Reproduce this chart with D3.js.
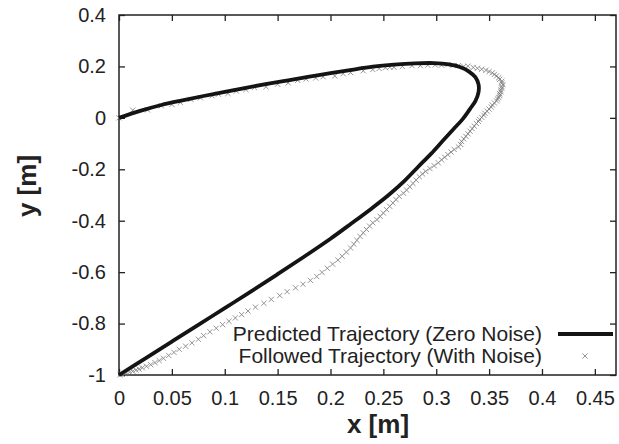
<!DOCTYPE html>
<html><head><meta charset="utf-8">
<script src="https://cdn.jsdelivr.net/npm/d3@7"></script>
<style>body{margin:0;background:#fff}svg{display:block}text{font-family:"Liberation Sans",Arial,sans-serif;fill:#222}</style>
</head><body><svg id="c" width="619" height="444"></svg>
<script>
const xTicks = [0,0.05,0.1,0.15,0.2,0.25,0.3,0.35,0.4,0.45];
const xTickLabels = ["0","0.05","0.1","0.15","0.2","0.25","0.3","0.35","0.4","0.45"];
const yTicks = [0.4,0.2,0,-0.2,-0.4,-0.6,-0.8,-1];
const yTickLabels = ["0.4","0.2","0","-0.2","-0.4","-0.6","-0.8","-1"];
const seriesNames = ["Predicted Trajectory (Zero Noise)","Followed Trajectory (With Noise)"];
const predictedX = [0,0.02,0.04,0.06,0.08,0.1,0.12,0.14,0.16,0.18,0.2,0.22,0.24,0.26,0.28,0.298,0.312,0.323,0.331,0.337,0.34,0.34,0.337,0.332,0.325,0.316,0.306,0.295,0.283,0.27,0.255,0.238,0.22,0.2,0.175,0.15,0.125,0.1,0.075,0.05,0.025,0];
const predictedY = [0,0.027,0.05,0.068,0.085,0.101,0.117,0.132,0.146,0.16,0.174,0.187,0.199,0.207,0.212,0.213,0.208,0.197,0.18,0.158,0.13,0.1,0.065,0.035,-0.005,-0.045,-0.09,-0.14,-0.19,-0.245,-0.3,-0.355,-0.41,-0.47,-0.54,-0.608,-0.675,-0.74,-0.805,-0.87,-0.935,-1];
const followedX = [0.000,0.013,0.027,0.040,0.050,0.058,0.068,0.077,0.088,0.094,0.103,0.111,0.120,0.128,0.139,0.150,0.160,0.169,0.177,0.186,0.193,0.204,0.212,0.219,0.231,0.240,0.246,0.252,0.256,0.260,0.268,0.277,0.285,0.292,0.299,0.305,0.311,0.316,0.321,0.326,0.330,0.335,0.339,0.343,0.347,0.350,0.353,0.355,0.357,0.359,0.360,0.362,0.362,0.363,0.362,0.362,0.361,0.361,0.360,0.360,0.359,0.358,0.357,0.355,0.353,0.352,0.350,0.348,0.346,0.345,0.343,0.341,0.340,0.338,0.336,0.334,0.332,0.330,0.328,0.326,0.324,0.323,0.321,0.317,0.314,0.311,0.308,0.305,0.302,0.298,0.294,0.290,0.287,0.284,0.281,0.278,0.275,0.272,0.269,0.265,0.262,0.259,0.256,0.253,0.250,0.247,0.244,0.240,0.237,0.234,0.231,0.228,0.225,0.222,0.219,0.215,0.211,0.207,0.202,0.197,0.192,0.187,0.181,0.174,0.167,0.159,0.152,0.144,0.137,0.129,0.122,0.116,0.110,0.104,0.098,0.092,0.086,0.080,0.075,0.069,0.063,0.057,0.052,0.047,0.042,0.038,0.034,0.030,0.026,0.022,0.019,0.016,0.013,0.010,0.007,0.005,0.003,0.001];
const followedY = [0.000,0.030,0.031,0.047,0.052,0.060,0.072,0.078,0.086,0.092,0.095,0.104,0.110,0.118,0.121,0.131,0.136,0.146,0.151,0.155,0.160,0.163,0.172,0.176,0.183,0.188,0.192,0.195,0.197,0.197,0.200,0.203,0.203,0.205,0.206,0.205,0.207,0.204,0.203,0.200,0.201,0.196,0.193,0.189,0.185,0.180,0.175,0.169,0.163,0.156,0.150,0.143,0.136,0.129,0.122,0.115,0.108,0.101,0.094,0.087,0.080,0.073,0.066,0.058,0.050,0.042,0.034,0.026,0.018,0.010,0.002,-0.006,-0.014,-0.022,-0.032,-0.042,-0.052,-0.062,-0.072,-0.082,-0.092,-0.103,-0.113,-0.123,-0.133,-0.143,-0.153,-0.163,-0.175,-0.186,-0.197,-0.208,-0.218,-0.229,-0.242,-0.255,-0.268,-0.281,-0.293,-0.305,-0.318,-0.331,-0.344,-0.357,-0.370,-0.383,-0.396,-0.408,-0.421,-0.434,-0.447,-0.461,-0.476,-0.491,-0.506,-0.522,-0.538,-0.553,-0.569,-0.585,-0.601,-0.617,-0.632,-0.647,-0.661,-0.676,-0.691,-0.706,-0.721,-0.736,-0.751,-0.765,-0.778,-0.791,-0.804,-0.818,-0.832,-0.847,-0.861,-0.875,-0.888,-0.900,-0.912,-0.924,-0.935,-0.944,-0.952,-0.960,-0.966,-0.972,-0.977,-0.981,-0.985,-0.989,-0.992,-0.995,-0.997,-0.999];

const W = 619, H = 444;
const m = {left:119, top:15, right:3, bottom:69};
const svg = d3.select("#c");
const x = d3.scaleLinear().domain([0,0.47]).range([m.left, W-m.right]);
const y = d3.scaleLinear().domain([-1,0.4]).range([H-m.bottom, m.top]);
const tl = 6;
const tickFont = 20;

const gx = svg.append("g").attr("transform",`translate(0,${H-m.bottom})`)
  .call(d3.axisBottom(x).tickValues(xTicks).tickSize(-tl).tickPadding(16).tickFormat((d,i)=>xTickLabels[i]));
const gxt = svg.append("g").attr("transform",`translate(0,${m.top})`)
  .call(d3.axisTop(x).tickValues(xTicks).tickSize(-tl).tickFormat(""));
const gy = svg.append("g").attr("transform",`translate(${m.left},0)`)
  .call(d3.axisLeft(y).tickValues(yTicks).tickSize(-tl).tickPadding(13).tickFormat((d,i)=>yTickLabels[i]));
const gyr = svg.append("g").attr("transform",`translate(${W-m.right},0)`)
  .call(d3.axisRight(y).tickValues(yTicks).tickSize(-tl).tickFormat(""));
[gx,gxt,gy,gyr].forEach(g=>{
  g.attr("font-size",tickFont).attr("font-family",null);
  g.select(".domain").remove();
  g.selectAll(".tick line").attr("stroke","#222").attr("stroke-width",1.3);
  g.selectAll(".tick text").attr("font-size",tickFont).attr("fill","#222");
});
svg.append("rect").attr("x",m.left).attr("y",m.top).attr("width",W-m.right-m.left).attr("height",H-m.bottom-m.top)
  .attr("fill","none").attr("stroke","#222").attr("stroke-width",1.5);

const xs = 2.6;
const pts = followedX.map((d,i)=>[d,followedY[i]]);
const mk = svg.append("g").attr("stroke","#7a7a7a").attr("stroke-width",0.8).attr("fill","none");
mk.selectAll("path").data(pts).join("path")
  .attr("d",d=>{const px=x(d[0]),py=y(d[1]);return `M${px-xs},${py-xs}L${px+xs},${py+xs}M${px-xs},${py+xs}L${px+xs},${py-xs}`;});

const pred = predictedX.map((d,i)=>[d,predictedY[i]]);
svg.append("path").datum(pred).attr("fill","none").attr("stroke","#141414").attr("stroke-width",3.8)
  .attr("stroke-linejoin","round")
  .attr("d",d3.line().x(d=>x(d[0])).y(d=>y(d[1])).curve(d3.curveCatmullRom));

const lg = svg.append("g");
lg.append("text").attr("x",542).attr("y",341).attr("text-anchor","end").attr("font-size",21).text(seriesNames[0]);
lg.append("text").attr("x",542).attr("y",363).attr("text-anchor","end").attr("font-size",21).text(seriesNames[1]);
lg.append("line").attr("x1",558).attr("x2",613).attr("y1",334).attr("y2",334).attr("stroke","#141414").attr("stroke-width",3.8);
lg.append("path").attr("d",`M${585-xs},${356-xs}L${585+xs},${356+xs}M${585-xs},${356+xs}L${585+xs},${356-xs}`)
  .attr("stroke","#7a7a7a").attr("stroke-width",0.8);

svg.append("text").attr("x",378).attr("y",433).attr("text-anchor","middle").attr("font-size",26).attr("font-weight","bold").text("x [m]");
svg.append("text").attr("transform","translate(36,186) rotate(-90)").attr("text-anchor","middle").attr("font-size",26).attr("font-weight","bold").text("y [m]");
</script></body></html>
